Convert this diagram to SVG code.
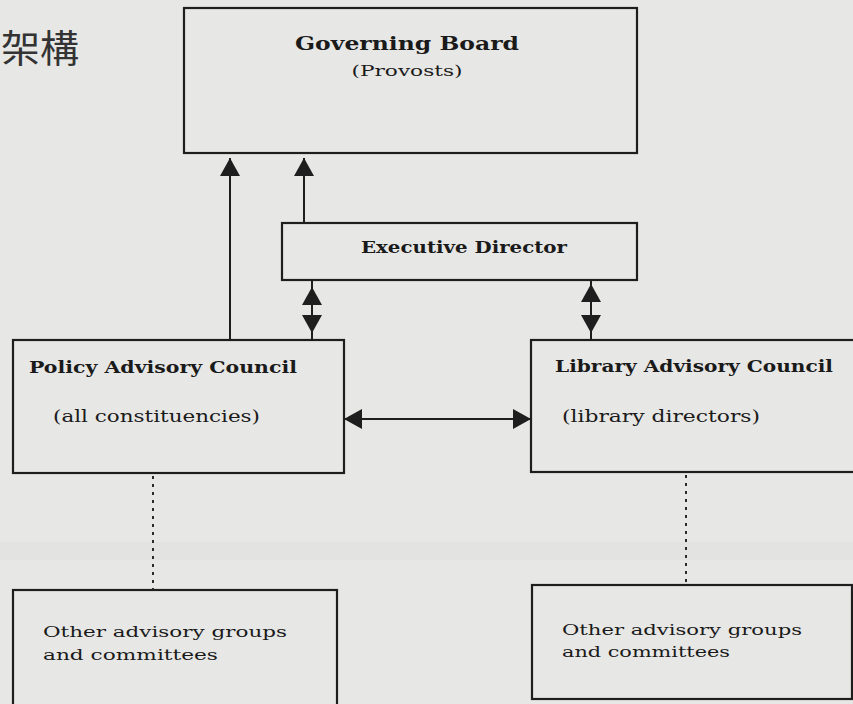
<svg xmlns="http://www.w3.org/2000/svg" width="853" height="704" viewBox="0 0 853 704">
<style>
.box{fill:none;stroke:#1e1e1e;stroke-width:2.2}
.ln{fill:none;stroke:#1e1e1e;stroke-width:2}
.dot{fill:none;stroke:#2a2a2a;stroke-width:2;stroke-dasharray:3 5}
.t{font-family:"DejaVu Serif","Liberation Serif",serif;fill:#1a1a1a}
.b{font-weight:bold}
.cjk{font-family:"Noto Sans CJK TC","Noto Sans CJK SC",sans-serif;fill:#333}
</style>
<defs>
<marker id="ah" viewBox="0 0 18 20" refX="18" refY="10" markerWidth="18" markerHeight="20" markerUnits="userSpaceOnUse" orient="auto-start-reverse">
<path d="M0,0 L18,10 L0,20 z" fill="#1e1e1e"/>
</marker>
</defs>
<rect x="0" y="0" width="853" height="704" fill="#e7e7e5"/>
<rect x="0" y="542" width="853" height="18" fill="#e3e3e1"/>
<text class="cjk" x="1" y="62" font-size="38" textLength="78" lengthAdjust="spacingAndGlyphs">架構</text>

<g id="governing-board">
<rect class="box" x="184" y="8" width="453" height="145"/>
<text class="t b" x="407" y="50" font-size="19" text-anchor="middle" textLength="224" lengthAdjust="spacingAndGlyphs">Governing Board</text>
<text class="t" x="407" y="76" font-size="14" text-anchor="middle" textLength="111" lengthAdjust="spacingAndGlyphs">(Provosts)</text>
</g>

<g id="executive-director">
<rect class="box" x="282" y="223" width="355" height="57"/>
<text class="t b" x="464" y="253" font-size="16" text-anchor="middle" textLength="206" lengthAdjust="spacingAndGlyphs">Executive Director</text>
</g>

<g id="policy-advisory-council">
<rect class="box" x="13" y="340" width="331" height="133"/>
<text class="t b" x="29" y="373" font-size="17" textLength="268" lengthAdjust="spacingAndGlyphs">Policy Advisory Council</text>
<text class="t" x="53" y="422" font-size="16" textLength="207" lengthAdjust="spacingAndGlyphs">(all constituencies)</text>
</g>

<g id="library-advisory-council">
<rect class="box" x="531" y="340" width="330" height="132"/>
<text class="t b" x="555" y="372" font-size="17" textLength="278" lengthAdjust="spacingAndGlyphs">Library Advisory Council</text>
<text class="t" x="562" y="422" font-size="16" textLength="198" lengthAdjust="spacingAndGlyphs">(library directors)</text>
</g>

<g id="other-groups-left">
<rect class="box" x="13" y="590" width="324" height="120"/>
<text class="t" x="43" y="637" font-size="15" textLength="244" lengthAdjust="spacingAndGlyphs">Other advisory groups</text>
<text class="t" x="43" y="660" font-size="15" textLength="175" lengthAdjust="spacingAndGlyphs">and committees</text>
</g>

<g id="other-groups-right">
<rect class="box" x="532" y="585" width="320" height="114"/>
<text class="t" x="562" y="635" font-size="15" textLength="240" lengthAdjust="spacingAndGlyphs">Other advisory groups</text>
<text class="t" x="562" y="657" font-size="15" textLength="168" lengthAdjust="spacingAndGlyphs">and committees</text>
</g>

<g id="connectors">
<line class="ln" x1="230" y1="340" x2="230" y2="158" marker-end="url(#ah)"/>
<line class="ln" x1="304" y1="223" x2="304" y2="158" marker-end="url(#ah)"/>
<line class="ln" x1="312" y1="287" x2="312" y2="333" marker-start="url(#ah)" marker-end="url(#ah)"/>
<line class="ln" x1="312" y1="280" x2="312" y2="340"/>
<line class="ln" x1="591" y1="284" x2="591" y2="333" marker-start="url(#ah)" marker-end="url(#ah)"/>
<line class="ln" x1="591" y1="280" x2="591" y2="340"/>
<line class="ln" x1="344" y1="419" x2="531" y2="419" marker-start="url(#ah)" marker-end="url(#ah)"/>
<line class="dot" x1="153" y1="476" x2="153" y2="590"/>
<line class="dot" x1="686" y1="475" x2="686" y2="585"/>
</g>
</svg>
